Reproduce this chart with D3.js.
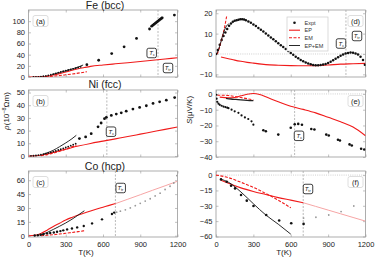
<!DOCTYPE html>
<html><head><meta charset="utf-8">
<script src="https://cdn.jsdelivr.net/npm/d3@7"></script>
<style>body{margin:0;background:#fff}svg{display:block}text{font-family:"Liberation Sans",Arial,sans-serif}</style>
</head><body><svg id="c" width="375" height="260"></svg>
<script>
// ---------- data ----------
const xTicks=[0,300,600,900,1200];
const titles=["Fe (bcc)","Ni (fcc)","Co (hcp)"];
const legendLabels=["Expt","EP","EM","EP+EM"];
// (a) Fe resistivity
const feLowT=[40,60,80,100,120,140,160,180,200,220,240,260,280,300,320,340,360,380,400,420];
const feLowRho=[0.1,0.2,0.4,0.8,1.3,2.0,2.9,4.0,5.2,6.6,8.0,9.2,10.3,11.4,12.5,13.6,14.7,15.8,17.0,18.3];
const feHighT=[470,565,670,770,870,975,992,1002,1012,1022,1032,1042,1052,1062,1072,1077,1175];
const feHighRho=[22,30,42,54,69,86,91,92.8,94.6,96.4,98.2,100,101.8,103.6,105.2,106,111];
const feEpT=[0,100,150,200,250,300,350,400,450,500,600,700,800,900,1000,1100,1200];
const feEp=[0,0.3,1.5,3.5,6,9,12,14.8,17,19,21.5,23.6,25.6,27.7,29.9,32.2,34.5];
const feEmT=[100,150,200,250,300,350,400,470];
const feEm=[0,0.6,1.5,2.6,3.9,5.3,6.9,9.5];
const feTotT=[190,250,300,350,400,440];
const feTot=[4.5,8,11,14.3,17.8,21.5];
// (b) Ni resistivity
const niLowT=[20,40,60,80,100,120,140,160,180,200,220,240,260,280,300,320,340,360,380];
const niLowRho=[0.1,0.2,0.4,0.7,1.0,1.4,1.9,2.4,2.9,3.5,4.1,4.7,5.3,6.0,6.7,7.4,8.1,8.9,9.7];
const niHighT=[410,460,505,560,585,612,627,667,707,747,787,841,895,949,1003,1056,1110,1177];
const niHighRho=[13.7,15,17.6,23,26,29.4,30.5,32,33,34,35.3,37,38.3,39.6,41.4,42.7,44,46];
const niEpT=[0,100,200,300,400,500,600,700,800,900,1000,1100,1200];
const niEp=[0,0.6,2.8,5.3,7.8,9.9,11.7,13.5,15.3,17.2,19.1,21,22.8];
const niEmT=[100,150,200,250,300,350,385];
const niEm=[0.3,1.2,2.4,3.8,5.4,7.2,8.6];
const niTotT=[120,150,200,250,300,350,385];
const niTot=[1.5,2.5,4.5,7.3,10.3,13.6,16.3];
// (c) Co resistivity
const coT=[50,75,97,120,150,175,204,230,257,280,311,350,392,445,512,592,672,690];
const coRho=[0.3,0.5,1,1.5,2.5,3,3.5,4.2,5,5.8,6.8,7.8,9,10.5,13.3,17.7,23.5,25];
const coGrayT=[710,740,780,820,860,900,940,980,1020,1060,1100,1140,1170,1195];
const coGrayRho=[25.5,26.5,28,30,32.5,35,37.5,40,43,46,50,53.5,57,65];
const coEpT=[0,50,100,150,200,250,300,350,400,450,500,550,600,650,700];
const coEp=[0,0.5,2.5,6,10,13.5,17,19.8,22.3,24.5,26.7,28.8,30.8,32.8,34.7];
const coEpHiT=[700,800,900,1000,1100,1200];
const coEpHi=[34.7,39.5,44.3,49.2,54,58.9];
const coEmT=[100,150,200,250,300,350,400,450];
const coEm=[0,0.5,1.1,1.8,2.6,3.5,4.4,5.4];
const coTotT=[100,150,200,250,300,350,400,450];
const coTot=[1,3.5,6.8,10.2,13.8,17.8,22.3,27];
// (d) Fe Seebeck
const feST=[0,15,30,45,60,75,90,105,120,135,150,165,180,195,210,225,240,260,280,300,320,340,360,380,400,420,440,460,480,500,520,540,560,580,600,620,640,660,680,700,720,740,760,780,800,820,840,860,880,900,920,940,960,980,1000,1020,1040,1060,1080,1100,1120,1140,1160,1180,1195];
const feS=[0,2,4.5,6.9,8.8,10.6,12.3,13.9,15,15.8,16.3,16.6,16.8,17,17,16.9,16.6,16,15.3,14.5,13.7,12.8,11.9,11,10,9.1,8.1,7.2,6.2,5.3,4.3,3.4,2.4,1.5,0.5,-0.4,-1.3,-2.1,-2.9,-3.6,-4.2,-4.7,-5.1,-5.4,-5.5,-5.5,-5.4,-5.2,-4.9,-4.4,-3.8,-3.1,-2.3,-1.6,-0.9,-0.3,0.2,0.5,0.7,0.6,0.3,-0.3,-1.3,-3,-5.3];
const feSEpT=[40,100,150,200,250,300,400,500,600,700,800,900,1000,1100,1200];
const feSEp=[-1.5,-2.3,-3,-3.6,-4.1,-4.5,-5.2,-5.5,-5.7,-5.8,-5.7,-5.4,-5.0,-4.8,-4.6];
const feSEmT=[10,25,40,55,70,85];
const feSEm=[0,2.5,6,9.5,13.5,18.4];
const feSTotT=[5,20,35,50,65,80,100];
const feSTot=[0,2.2,5,8.3,11.2,13.3,14.8];
// (e) Ni Seebeck
const niSLowT=[2,5,10,20,30,45,60,75,90,100,125,150,180,205,232,259,285,300];
const niSLow=[-0.5,-3,-5,-6.2,-6.9,-7.5,-8,-8.3,-8.7,-9,-10,-11,-12,-13.6,-14.9,-15.9,-17.4,-19.5];
const niSHighT=[380,400,500,600,632,660,690,765,790,885,905,979,995,1072,1090,1165,1190];
const niSHigh=[-23,-23.7,-25.8,-21.4,-19.2,-19,-19.5,-22.2,-22.6,-25.8,-26.4,-29.1,-29.5,-32,-32.7,-34.8,-35.2];
const niSEpT=[30,100,150,200,250,300,350,400,500,600,700,800,900,1000,1100,1200];
const niSEp=[-2,-2.5,-2.3,-1.2,-0.2,0.3,-0.3,-1.8,-5,-7.8,-9.8,-12,-14.8,-17.6,-21,-26.5];
const niSEmT=[10,50,100,150,200,250,300];
const niSEm=[-0.8,-0.8,-1,-1.6,-2.3,-3,-3.8];
const niSTotT=[80,120,160,200,250,300];
const niSTot=[-2.8,-3.2,-3.5,-3.8,-4.1,-4.3];
// (f) Co Seebeck
const coST=[40,86,121,153,201,247,301,403,507,604,703];
const coS=[-4.2,-6.5,-10.4,-13,-19.5,-25,-30.2,-39,-44.4,-47,-47.7];
const coSGrayT=[703,802,905,1004,1106];
const coSGray=[-42,-41.2,-39,-35.7,-30.2];
const coSEpT=[40,100,200,300,400,500,600,700];
const coSEp=[-5,-8,-12.5,-16,-19,-22,-24.5,-27];
const coSEpHiT=[700,800,900,1000,1100,1200];
const coSEpHi=[-27,-30.6,-34.2,-37.8,-41.4,-45];
const coSEmT=[0,100,200,300,400,500,600];
const coSEm=[0,-2.5,-7,-12,-18,-24.5,-32];
const coSTotT=[40,100,200,300,400,500,600];
const coSTot=[-4,-7,-16.5,-28,-39,-48,-57.7];
// transition temperatures
const tcFe=1043, tcNi=631, tTrCo=700;

// ---------- drawing ----------
const svg=d3.select('#c');
const RED="#f01a1a", PINK="#f6a5a5", GREY="#a8a8a8";
const colL={x0:28.5,x1:177.5}, colR={x0:216,x1:365.5};
const rows=[{top:10,bot:77},{top:90,bot:157},{top:171,bot:237}];
let cid=0;
const zip=(a,b)=>a.map((v,i)=>[v,b[i]]);

function panel(col,row,yDom,yTicks,showX){
  const x=d3.scaleLinear().domain([0,1200]).range([col.x0,col.x1]);
  const y=d3.scaleLinear().domain(yDom).range([row.bot,row.top]);
  const g=svg.append('g');
  const id='clip'+(++cid);
  svg.append('clipPath').attr('id',id).append('rect')
    .attr('x',col.x0).attr('y',row.top).attr('width',col.x1-col.x0).attr('height',row.bot-row.top);
  const st=s=>{s.select('.domain').remove();s.selectAll('line').attr('stroke','#999').attr('stroke-width',0.6);
    s.selectAll('text').attr('font-size',7.5).attr('fill','#222');};
  g.append('g').attr('transform',`translate(0,${row.bot})`)
    .call(d3.axisBottom(x).tickValues(xTicks).tickSize(-2.5).tickPadding(5).tickFormat(showX?d3.format('d'):()=>'')).call(st);
  g.append('g').attr('transform',`translate(0,${row.top})`)
    .call(d3.axisTop(x).tickValues(xTicks).tickSize(-2.5).tickFormat(()=>'')).call(st);
  g.append('g').attr('transform',`translate(${col.x0},0)`)
    .call(d3.axisLeft(y).tickValues(yTicks).tickSize(-2.5).tickPadding(3.5)).call(st);
  g.append('g').attr('transform',`translate(${col.x1},0)`)
    .call(d3.axisRight(y).tickValues(yTicks).tickSize(-2.5).tickFormat(()=>'')).call(st);
  g.append('rect').attr('x',col.x0).attr('y',row.top).attr('width',col.x1-col.x0).attr('height',row.bot-row.top)
    .attr('fill','none').attr('stroke','#999').attr('stroke-width',0.8);
  const inner=g.append('g').attr('clip-path',`url(#${id})`);
  return {x,y,g,inner,col,row};
}
function vline(p,T){
  p.inner.append('line').attr('x1',p.x(T)).attr('x2',p.x(T)).attr('y1',p.row.top).attr('y2',p.row.bot)
    .attr('stroke',GREY).attr('stroke-width',0.8).attr('stroke-dasharray','2,1.5');
}
function zline(p){
  p.inner.append('line').attr('x1',p.col.x0).attr('x2',p.col.x1).attr('y1',p.y(0)).attr('y2',p.y(0))
    .attr('stroke','#bbb').attr('stroke-width',0.7).attr('stroke-dasharray','1,1.2');
}
function curve(p,xs,ys,color,w,dash){
  const l=d3.line().x(d=>p.x(d[0])).y(d=>p.y(d[1])).curve(d3.curveMonotoneX);
  p.inner.append('path').attr('d',l(zip(xs,ys))).attr('fill','none').attr('stroke',color)
    .attr('stroke-width',w).attr('stroke-dasharray',dash||null);
}
function dots(p,xs,ys,r,color){
  p.inner.selectAll(null).data(zip(xs,ys)).join('circle').attr('cx',d=>p.x(d[0])).attr('cy',d=>p.y(d[1]))
    .attr('r',r).attr('fill',color||'#111');
}
function plabel(p,txt,side){
  const w=15,h=11;
  const bx= side==='L'? p.col.x0+4.5 : p.col.x1-w-2.5;
  const by=p.row.top+5.5;
  p.g.append('rect').attr('x',bx).attr('y',by).attr('width',w).attr('height',h).attr('rx',2)
    .attr('fill','#fff').attr('stroke','#d6d6d6').attr('stroke-width',0.8);
  p.g.append('text').attr('x',bx+w/2).attr('y',by+h/2+2.6).attr('text-anchor','middle')
    .attr('font-size',7.5).attr('fill','#222').text(txt);
}
function tbox(cx,cy,sub){
  const s=9.5;
  svg.append('rect').attr('x',cx-s/2).attr('y',cy-s/2).attr('width',s).attr('height',s).attr('rx',1.8)
    .attr('fill','#fff').attr('stroke','#111').attr('stroke-width',0.8);
  const t=svg.append('text').attr('x',cx-(sub.length>1?3.3:2.4)).attr('y',cy+2).attr('font-size',6).attr('fill','#111');
  t.append('tspan').attr('font-style','italic').text('T');
  t.append('tspan').attr('font-size',3.8).attr('dy',1.2).text(sub);
}

// ---- (a) Fe rho
const pa=panel(colL,rows[0],[0,120],[0,20,40,60,80,100],false);
vline(pa,tcFe);
curve(pa,feEpT,feEp,RED,1.1);
curve(pa,feEmT,feEm,RED,1.1,'3,1.5');
curve(pa,feTotT,feTot,'#111',0.9);
dots(pa,feLowT,feLowRho,0.9);
dots(pa,feHighT,feHighRho,1.4);
plabel(pa,'(a)','L');
// ---- (b) Ni rho
const pb=panel(colL,rows[1],[-0.8,52],[0,10,20,30,40,50],false);
vline(pb,tcNi);
curve(pb,niEpT,niEp,RED,1.1);
curve(pb,niEmT,niEm,RED,1.4,'3,1.5');
curve(pb,niTotT,niTot,'#111',0.9);
dots(pb,niLowT,niLowRho,0.9);
dots(pb,niHighT,niHighRho,1.4);
plabel(pb,'(b)','L');
// ---- (c) Co rho
const pc=panel(colL,rows[2],[-1.4,70],[0,15,30,45,60],true);
vline(pc,tTrCo);
curve(pc,coEpHiT,coEpHi,PINK,1);
dots(pc,coGrayT,coGrayRho,0.9,'#9a9a9a');
curve(pc,coEpT,coEp,RED,1.1);
curve(pc,coEmT,coEm,RED,1.1,'3,1.5');
curve(pc,coTotT,coTot,'#111',0.9);
dots(pc,coT,coRho,1.2);
plabel(pc,'(c)','L');
// ---- (d) Fe S
const pd=panel(colR,rows[0],[-11.3,21.6],[-10,0,10,20],false);
zline(pd);vline(pd,tcFe);
curve(pd,feSEpT,feSEp,RED,1.1);
dots(pd,feST,feS,1.25);
curve(pd,feSEmT,feSEm,RED,1.1,'3,1.5');
curve(pd,feSTotT,feSTot,'#111',0.9);
plabel(pd,'(d)','R');
// ---- (e) Ni S
const pe=panel(colR,rows[1],[-40,2.5],[0,-10,-20,-30,-40],false);
zline(pe);vline(pe,tcNi);
curve(pe,niSEpT,niSEp,RED,1.1);
curve(pe,niSEmT,niSEm,RED,1.1,'3,1.5');
curve(pe,niSTotT,niSTot,'#222',1.3);
dots(pe,niSLowT,niSLow,1.1);
dots(pe,niSHighT,niSHigh,1.3);
plabel(pe,'(e)','R');
// ---- (f) Co S
const pf=panel(colR,rows[2],[-60.5,4],[0,-15,-30,-45,-60],true);
zline(pf);vline(pf,tTrCo);
curve(pf,coSEpHiT,coSEpHi,PINK,1);
dots(pf,coSGrayT,coSGray,0.9,'#9a9a9a');
curve(pf,coSEpT,coSEp,RED,1.1);
curve(pf,coSEmT,coSEm,RED,1.1,'3,1.5');
curve(pf,coSTotT,coSTot,'#111',0.9);
dots(pf,coST,coS,1.3);
plabel(pf,'(f)','R');

// transition labels
tbox(151.7,53,'c'); tbox(168,68,'tr');
tbox(111,131.7,'c');
tbox(120.7,188,'tr');
tbox(341,43.5,'c'); tbox(357,36,'tr');
tbox(299,135.8,'c');
tbox(308,189,'tr');

// titles
titles.forEach((t,i)=>svg.append('text').attr('x',105).attr('y',[9,87.5,169.5][i]).attr('text-anchor','middle')
  .attr('font-size',10.5).attr('fill','#222').text(t));
// axis labels
svg.append('text').attr('transform','translate(9,111) rotate(-90)').attr('text-anchor','middle').attr('font-size',8).attr('fill','#222')
  .call(t=>{t.append('tspan').attr('font-style','italic').text('ρ');t.append('tspan').text('(10');
    t.append('tspan').attr('font-size',5.5).attr('dy',-3).text('−8');t.append('tspan').attr('dy',3).text('Ωm)');});
svg.append('text').attr('transform','translate(192,110) rotate(-90)').attr('text-anchor','middle').attr('font-size',8).attr('fill','#222')
  .call(t=>{t.append('tspan').attr('font-style','italic').text('S');t.append('tspan').text('(μV/K)');});
svg.append('text').attr('x',86).attr('y',255).attr('text-anchor','middle').attr('font-size',8).attr('fill','#222').text('T(K)');
svg.append('text').attr('x',284).attr('y',255).attr('text-anchor','middle').attr('font-size',8).attr('fill','#222').text('T(K)');

// legend in (d)
const lg=svg.append('g');
lg.append('rect').attr('x',287).attr('y',17).attr('width',41).attr('height',34).attr('fill','#fff')
  .attr('stroke','#ccc').attr('stroke-width',0.7);
const ly=[22.7,30.2,37.7,45.5];
legendLabels.forEach((lab,i)=>{
  if(i===0) lg.append('circle').attr('cx',294.5).attr('cy',ly[i]).attr('r',1.3).attr('fill','#111');
  else lg.append('line').attr('x1',289).attr('x2',300).attr('y1',ly[i]).attr('y2',ly[i])
    .attr('stroke',i===3?'#111':RED).attr('stroke-width',i===3?0.9:1.1).attr('stroke-dasharray',i===2?'3,1.5':null);
  lg.append('text').attr('x',304.5).attr('y',ly[i]+2).attr('font-size',5.5).attr('fill','#333').text(lab);
});
</script></body></html>
